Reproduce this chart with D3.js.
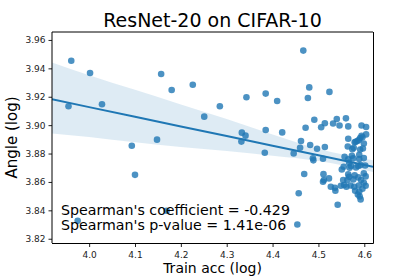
<!DOCTYPE html>
<html>
<head>
<meta charset="utf-8">
<script src="https://d3js.org/d3.v7.min.js"></script>
<style>
body { margin: 0; background: #fff; }
svg { font-family: "DejaVu Sans", sans-serif; }
</style>
</head>
<body>
<svg width="415" height="277"></svg>
<script>
// log train accuracy vs log angle, one entry per run
var trainAcc = [3.961, 3.955, 4.002, 4.028, 4.093, 4.100, 4.148, 4.157, 4.180, 4.226,
  4.251, 4.285, 4.333, 4.332, 4.341, 4.343, 4.385, 4.385, 4.383, 4.410,
  4.421, 4.446, 4.467, 4.457, 4.454, 4.462, 4.460, 4.469, 4.472, 4.477,
  4.480, 4.482, 4.491, 4.488, 4.489, 4.497, 4.506, 4.514, 4.524, 3.975,
  4.169, 4.540, 4.532, 4.546, 4.560, 4.565, 4.594, 4.604, 4.604, 4.594,
  4.591, 4.596, 4.565, 4.581, 4.585, 4.579, 4.588, 4.564, 4.577, 4.574,
  4.599, 4.591, 4.597, 4.514, 4.510, 4.557, 4.573, 4.576, 4.589, 4.589,
  4.599, 4.565, 4.567, 4.555, 4.568, 4.551, 4.571, 4.587, 4.592, 4.602,
  4.582, 4.511, 4.510, 4.512, 4.523, 4.565, 4.567, 4.563, 4.579, 4.587,
  4.599, 4.603, 4.554, 4.576, 4.593, 4.599, 4.527, 4.536, 4.537, 4.549,
  4.556, 4.561, 4.570, 4.578, 4.588, 4.603, 4.580, 4.589, 4.596, 4.590,
  4.592, 4.586, 4.542];
var angle = [3.9454, 3.9133, 3.9367, 3.9147, 3.8855, 3.8650, 3.8898, 3.9360, 3.9248, 3.9285,
  3.9060, 3.9133, 3.8947, 3.8884, 3.8926, 3.9196, 3.9222, 3.8966, 3.8806, 3.9170,
  3.8949, 3.8801, 3.9525, 3.8520, 3.8300, 3.8888, 3.8841, 3.8656, 3.8982, 3.9191,
  3.9266, 3.8860, 3.9038, 3.8766, 3.8752, 3.8834, 3.8985, 3.9013, 3.9234, 3.8326,
  3.8397, 3.9043, 3.9012, 3.8998, 3.9048, 3.8991, 3.8998, 3.8987, 3.8935, 3.8925,
  3.8909, 3.8914, 3.8904, 3.8883, 3.8888, 3.8879, 3.8895, 3.8850, 3.8841, 3.8831,
  3.8871, 3.8829, 3.8836, 3.8846, 3.8763, 3.8777, 3.8784, 3.8766, 3.8792, 3.8761,
  3.8768, 3.8759, 3.8735, 3.8707, 3.8700, 3.8688, 3.8712, 3.8712, 3.8719, 3.8716,
  3.8702, 3.8655, 3.8601, 3.8613, 3.8625, 3.8653, 3.8636, 3.8613, 3.8646, 3.8632,
  3.8660, 3.8639, 3.8613, 3.8618, 3.8613, 3.8594, 3.8566, 3.8559, 3.8538, 3.8573,
  3.8578, 3.8566, 3.8575, 3.8566, 3.8575, 3.8573, 3.8538, 3.8531, 3.8552, 3.8498,
  3.8477, 3.8512, 3.8439];

// regression line and its bootstrap band
var fitX  = [3.919, 4.0, 4.1, 4.2, 4.3, 4.4, 4.5, 4.619];
var fitY  = [3.9182, 3.9127, 3.9059, 3.8991, 3.8923, 3.8855, 3.8788, 3.8707];
var fitHi = [3.9442, 3.9352, 3.9249, 3.9146, 3.9043, 3.8935, 3.8833, 3.8752];
var fitLo = [3.8942, 3.8917, 3.8879, 3.8846, 3.8818, 3.8785, 3.8748, 3.8670];

var xTicks = [4.0, 4.1, 4.2, 4.3, 4.4, 4.5, 4.6];
var yTicks = [3.82, 3.84, 3.86, 3.88, 3.90, 3.92, 3.94, 3.96];
var statLines = ["Spearman's coefficient = -0.429", "Spearman's p-value = 1.41e-06"];

var blue = "#1f77b4";
var m = {left: 52, right: 42, top: 32, bottom: 34};
var W = 415, H = 277;

var svg = d3.select("svg");
var x = d3.scaleLinear().domain([3.919, 4.619]).range([m.left, W - m.right]);
var y = d3.scaleLinear().domain([3.817, 3.9656]).range([H - m.bottom, m.top]);

svg.append("defs").append("clipPath").attr("id", "clip")
  .append("rect").attr("x", m.left).attr("y", m.top)
  .attr("width", W - m.left - m.right).attr("height", H - m.top - m.bottom);

var plot = svg.append("g").attr("clip-path", "url(#clip)");

plot.selectAll("circle")
  .data(trainAcc)
  .enter().append("circle")
  .attr("cx", function(d){ return x(d); })
  .attr("cy", function(d, i){ return y(angle[i]); })
  .attr("r", 3.3)
  .attr("fill", blue)
  .attr("fill-opacity", 0.8);

plot.append("path")
  .datum(fitX)
  .attr("fill", blue)
  .attr("fill-opacity", 0.15)
  .attr("d", d3.area().curve(d3.curveMonotoneX)
    .x(function(d){ return x(d); })
    .y0(function(d, i){ return y(fitLo[i]); })
    .y1(function(d, i){ return y(fitHi[i]); }));

plot.append("path")
  .datum(fitX)
  .attr("fill", "none")
  .attr("stroke", blue)
  .attr("stroke-width", 2)
  .attr("d", d3.line().x(function(d){ return x(d); }).y(function(d, i){ return y(fitY[i]); }));

// axes
var xAxis = svg.append("g")
  .attr("transform", "translate(0," + (H - m.bottom + 0.5) + ")")
  .call(d3.axisBottom(x).tickValues(xTicks).tickFormat(d3.format(".1f")).tickSize(3.5).tickSizeOuter(0));
var yAxis = svg.append("g")
  .attr("transform", "translate(" + m.left + ",0)")
  .call(d3.axisLeft(y).tickValues(yTicks).tickFormat(d3.format(".2f")).tickSize(3.5).tickSizeOuter(0));
[xAxis, yAxis].forEach(function(a){
  a.select(".domain").remove();
  a.selectAll("text").attr("font-size", 9).attr("fill", "#222").attr("font-family", "DejaVu Sans");
  a.selectAll("line").attr("stroke", "#222");
});
xAxis.selectAll("text").attr("dy", "0.85em");

// frame
svg.append("line").attr("x1", m.left).attr("x2", W - m.right).attr("y1", m.top).attr("y2", m.top).attr("stroke", "#000");
svg.append("line").attr("x1", m.left).attr("x2", m.left).attr("y1", m.top).attr("y2", H - m.bottom).attr("stroke", "#000");
svg.append("line").attr("x1", m.left).attr("x2", W - m.right + 0.5).attr("y1", H - m.bottom + 0.5).attr("y2", H - m.bottom + 0.5).attr("stroke", "#000");
svg.append("line").attr("x1", W - m.right + 0.5).attr("x2", W - m.right + 0.5).attr("y1", m.top).attr("y2", H - m.bottom + 0.5).attr("stroke", "#000");

svg.selectAll("text.stat")
  .data(statLines)
  .enter().append("text")
  .attr("class", "stat")
  .attr("x", m.left + 9)
  .attr("y", function(d, i){ return 215 + i * 15; })
  .attr("font-size", 14.2)
  .attr("fill", "#000")
  .text(function(d){ return d; });

svg.append("text")
  .attr("x", (m.left + W - m.right) / 2)
  .attr("y", 27)
  .attr("text-anchor", "middle")
  .attr("font-size", 19)
  .text("ResNet-20 on CIFAR-10");

svg.append("text")
  .attr("x", (m.left + W - m.right) / 2)
  .attr("y", 273)
  .attr("text-anchor", "middle")
  .attr("font-size", 14)
  .text("Train acc (log)");

svg.append("text")
  .attr("transform", "translate(17," + ((m.top + H - m.bottom) / 2) + ") rotate(-90)")
  .attr("text-anchor", "middle")
  .attr("font-size", 15)
  .text("Angle (log)");
</script>
</body>
</html>
